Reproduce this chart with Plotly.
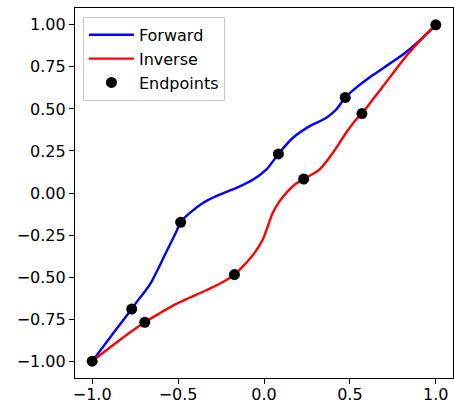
import plotly.graph_objects as go

# Forward curve
fwd_x = [-1.0, -0.887, -0.77, -0.733, -0.694, -0.655, -0.617, -0.578, -0.539, -0.510, -0.485,
         -0.443, -0.355, -0.258, -0.161, -0.065, 0.013, 0.084, 0.167, 0.264, 0.361, 0.419, 0.473,
         0.535, 0.632, 0.729, 0.826, 0.903, 0.951, 1.0]
fwd_y = [-1.0, -0.847, -0.69, -0.637, -0.587, -0.528, -0.452, -0.370, -0.290, -0.229, -0.174,
         -0.129, -0.059, -0.010, 0.030, 0.079, 0.139, 0.232, 0.327, 0.396, 0.446, 0.495, 0.568,
         0.625, 0.700, 0.767, 0.837, 0.904, 0.950, 1.0]

# Inverse curve
inv_x = [-1.0, -0.849, -0.694, -0.607, -0.530, -0.433, -0.336, -0.239, -0.172, -0.113, -0.055,
         -0.007, 0.022, 0.051, 0.090, 0.138, 0.187, 0.231, 0.322, 0.400, 0.477, 0.535, 0.570,
         0.632, 0.729, 0.826, 0.922, 0.961, 1.0]
inv_y = [-1.0, -0.881, -0.769, -0.715, -0.670, -0.623, -0.578, -0.529, -0.485, -0.426, -0.356,
         -0.277, -0.198, -0.119, -0.050, 0.010, 0.056, 0.083, 0.139, 0.238, 0.357, 0.436, 0.472,
         0.554, 0.683, 0.812, 0.921, 0.960, 1.0]

# Knot endpoints (forward knots, then inverse knots)
knot_x = [-1.0, -0.77, -0.485, 0.084, 0.473, 1.0, -0.694, -0.172, 0.231, 0.570]
knot_y = [-1.0, -0.69, -0.174, 0.232, 0.568, 1.0, -0.769, -0.485, 0.083, 0.472]

x_ticks = [-1.0, -0.5, 0.0, 0.5, 1.0]
y_ticks = [-1.0, -0.75, -0.5, -0.25, 0.0, 0.25, 0.5, 0.75, 1.0]

FONT = "DejaVu Sans"

fig = go.Figure()
fig.add_trace(go.Scatter(x=fwd_x, y=fwd_y, mode="lines", name="Forward",
                         line=dict(color="#0000ff", width=2.4, shape="spline", smoothing=0.9)))
fig.add_trace(go.Scatter(x=inv_x, y=inv_y, mode="lines", name="Inverse",
                         line=dict(color="#ff0000", width=2.4, shape="spline", smoothing=0.9)))
fig.add_trace(go.Scatter(x=knot_x, y=knot_y, mode="markers", name="Endpoints",
                         marker=dict(color="black", size=11)))

axis_common = dict(showline=True, linecolor="black", linewidth=1.2, mirror=True,
                   ticks="outside", ticklen=5, tickwidth=1.2, tickcolor="black",
                   showgrid=False, zeroline=False, automargin=False,
                   tickfont=dict(family=FONT, size=16, color="black"))

fig.update_xaxes(range=[-1.1, 1.1], tickvals=x_ticks, tickformat=".1f",
                 ticklabelstandoff=-3, **axis_common)
fig.update_yaxes(range=[-1.1, 1.1], tickvals=y_ticks, tickformat=".2f", **axis_common)

fig.update_layout(
    width=454, height=405,
    margin=dict(l=75, r=1, t=8, b=27, autoexpand=False),
    plot_bgcolor="white", paper_bgcolor="white",
    font=dict(family=FONT, size=16, color="black"),
    legend=dict(x=0.021, y=0.976, xanchor="left", yanchor="top", itemwidth=45,
                bgcolor="rgba(255,255,255,0.8)", bordercolor="#cccccc", borderwidth=1,
                font=dict(family=FONT, size=16, color="black")),
    showlegend=True,
)

fig.write_html("out.html")
